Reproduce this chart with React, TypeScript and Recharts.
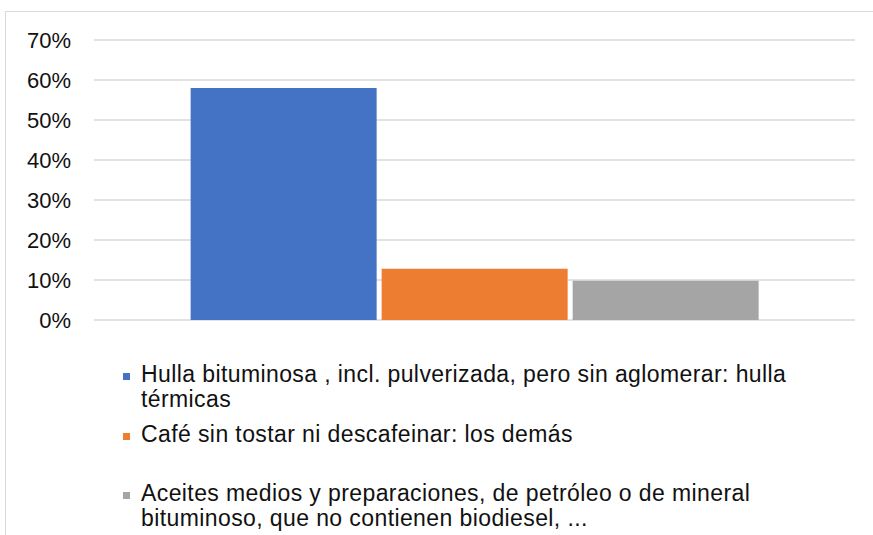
import { Bar, BarChart, CartesianGrid, XAxis, YAxis } from "recharts";

const categories = [""];
const seriesNames = [
  "Hulla bituminosa , incl. pulverizada, pero sin aglomerar: hulla térmicas",
  "Café sin tostar ni descafeinar: los demás",
  "Aceites medios y preparaciones, de petróleo o de mineral bituminoso, que no contienen biodiesel, ...",
];
const seriesKeys = ["hulla", "cafe", "aceites"];
const seriesValues = [0.58, 0.128, 0.098];
const seriesColors = ["#4472c4", "#ed7d31", "#a5a5a5"];
const yTicks = [0, 0.1, 0.2, 0.3, 0.4, 0.5, 0.6, 0.7];

const data = categories.map((name) => {
  const row: Record<string, string | number> = { name };
  seriesKeys.forEach((k, i) => {
    row[k] = seriesValues[i];
  });
  return row;
});

const font = "'Liberation Sans', Arial, sans-serif";

export default function App() {
  return (
    <div
      style={{
        position: "absolute",
        left: 0,
        top: 0,
        width: 873,
        height: 535,
        overflow: "hidden",
        background: "#fff",
        fontFamily: font,
      }}
    >
      <div
        style={{
          position: "absolute",
          left: 5,
          top: 11,
          width: 900,
          height: 560,
          border: "1.5px solid #d9d9d9",
          boxSizing: "border-box",
        }}
      />
      <div style={{ position: "absolute", left: 0, top: 0 }}>
        <BarChart
          width={873}
          height={340}
          data={data}
          margin={{ top: 40, right: 18, bottom: 20, left: 0 }}
          barCategoryGap="12.7%"
          barGap={5}
        >
          <CartesianGrid stroke="#d9d9d9" strokeWidth={1.5} vertical={false} />
          <XAxis dataKey="name" hide />
          <YAxis
            width={94}
            domain={[0, 0.7]}
            ticks={yTicks}
            tickFormatter={(v: number) => `${Math.round(v * 100)}%`}
            axisLine={false}
            tickLine={false}
            tickSize={0}
            tickMargin={23}
            tick={{ fill: "#111", fontSize: 22, fontFamily: font }}
          />
          {seriesKeys.map((k, i) => (
            <Bar
              key={k}
              dataKey={k}
              name={seriesNames[i]}
              fill={seriesColors[i]}
              isAnimationActive={false}
            />
          ))}
        </BarChart>
      </div>
      <div style={{ position: "absolute", left: 120, top: 362 }}>
        {seriesNames.map((n, i) => (
          <div
            key={n}
            style={{
              height: 59.5,
              display: "flex",
              alignItems: "flex-start",
              fontSize: 23,
              letterSpacing: 0.4,
              lineHeight: "25px",
              color: "#111",
            }}
          >
            <span
              style={{
                display: "inline-block",
                width: 7,
                height: 7,
                marginTop: 11,
                marginLeft: 3,
                marginRight: 11,
                background: seriesColors[i],
                flex: "none",
              }}
            />
            <span style={{ width: 700 }}>{n}</span>
          </div>
        ))}
      </div>
    </div>
  );
}
